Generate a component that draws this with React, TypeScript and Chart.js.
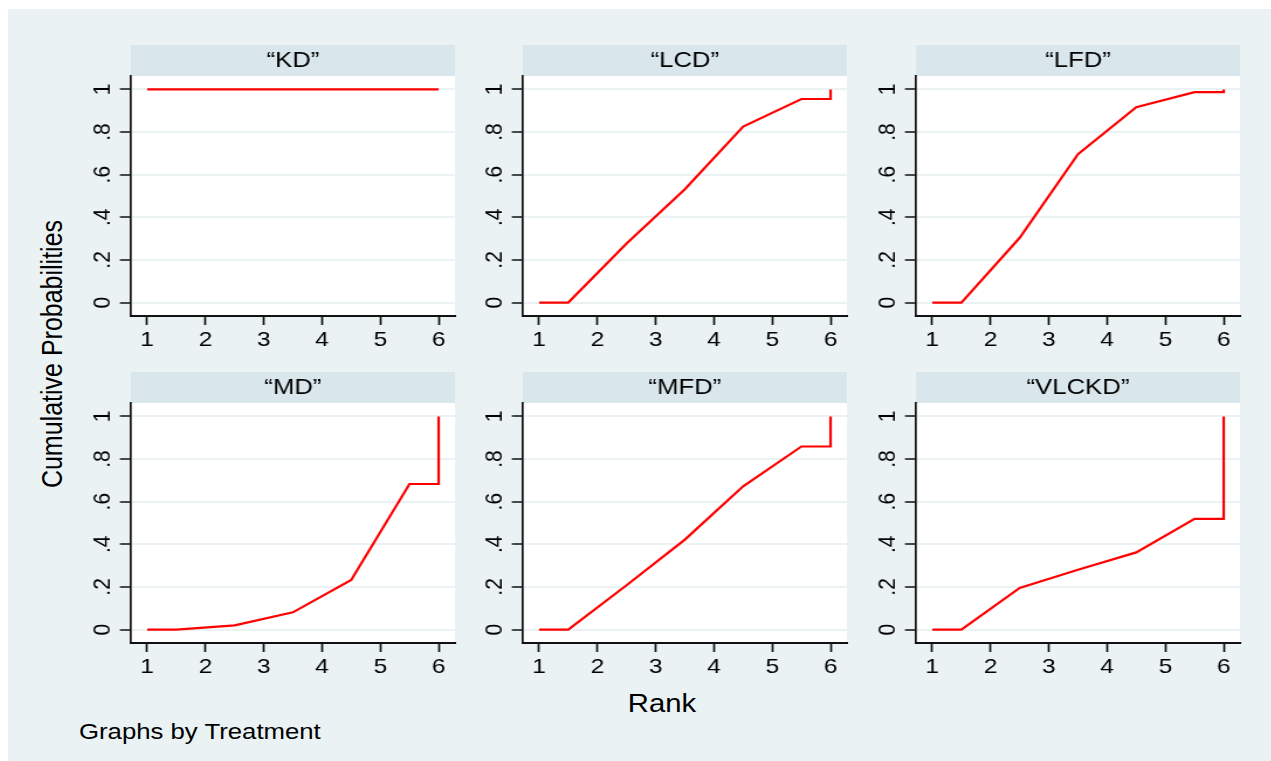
import React, { useEffect, useRef } from "react";
import { Chart, registerables } from "chart.js";

Chart.register(...registerables);

// ---------- data ----------
const treatments = ["“KD”", "“LCD”", "“LFD”", "“MD”", "“MFD”", "“VLCKD”"];
const rankPoints = [1, 1.5, 2.5, 3.5, 4.5, 5.5, 6, 6];
const cumKD = [1, 1, 1, 1, 1, 1, 1, 1];
const cumLCD = [0, 0, 0.277, 0.532, 0.826, 0.955, 0.955, 1];
const cumLFD = [0, 0, 0.304, 0.696, 0.917, 0.987, 0.987, 1];
const cumMD = [0, 0, 0.02, 0.081, 0.233, 0.683, 0.683, 1];
const cumMFD = [0, 0, 0.208, 0.422, 0.672, 0.859, 0.859, 1];
const cumVLCKD = [0, 0, 0.195, 0.281, 0.362, 0.519, 0.519, 1];
const seriesList = [cumKD, cumLCD, cumLFD, cumMD, cumMFD, cumVLCKD];
const xTickValues = [1, 2, 3, 4, 5, 6];
const yTickValues = [0, 0.2, 0.4, 0.6, 0.8, 1];
const yTickLabels = ["0", ".2", ".4", ".6", ".8", "1"];

// ---------- style / layout ----------
const FONT = "'Liberation Sans', Arial, Helvetica, sans-serif";
const BG = "#EAF2F3";
const STRIP = "#D9E6EB";
const GRID = "#EAF2F3";
const AXIS = "#111111";
const TEXT = "#000000";
const RED = "#FF0000";
const S = 1.17; // horizontal stretch of the whole graph
const toU = (pageX: number) => (pageX - 8) / S;

const Y_AXIS_W = 45;
const PLOT_W = 277;
const RIGHT_PAD = 6;
const CW = Y_AXIS_W + PLOT_W + RIGHT_PAD;
const TITLE_H = 31;
const PLOT_H = 240;
const X_AXIS_H = 40;
const CH = TITLE_H + PLOT_H + X_AXIS_H;
const plotLeftsPage = [131, 523, 916];
const stripTopsPage = [45, 372];

Chart.defaults.font.family = FONT;

const stripPlugin = {
  id: "strip",
  beforeDraw(chart: any) {
    const { ctx, chartArea: a } = chart;
    ctx.save();
    ctx.fillStyle = STRIP;
    ctx.fillRect(a.left, 0, a.right - a.left, a.top);
    ctx.fillStyle = "#ffffff";
    ctx.fillRect(a.left, a.top, a.right - a.left, a.bottom - a.top);
    ctx.restore();
  },
};

function Panel({ title, values, left, top }: { title: string; values: number[]; left: number; top: number }) {
  const ref = useRef<HTMLCanvasElement>(null);
  useEffect(() => {
    const chart = new Chart(ref.current as HTMLCanvasElement, {
      type: "line",
      data: {
        datasets: [
          {
            data: rankPoints.map((x, i) => ({ x, y: values[i] })),
            borderColor: RED,
            borderWidth: 2.2,
            pointRadius: 0,
            tension: 0,
            fill: false,
          },
        ],
      },
      options: {
        animation: false,
        responsive: false,
        events: [],
        layout: { padding: { left: 0, right: RIGHT_PAD, top: 0, bottom: 0 } },
        plugins: {
          legend: { display: false },
          tooltip: { enabled: false },
          title: {
            display: true,
            text: title,
            fullSize: false,
            color: TEXT,
            font: { size: 22, weight: "normal", family: FONT, lineHeight: 1.2 },
            padding: { top: 2.3, bottom: 2.3 },
          },
        },
        scales: {
          x: {
            type: "linear",
            min: 0.72,
            max: 6.28,
            afterBuildTicks: (axis: any) => {
              axis.ticks = xTickValues.map((v) => ({ value: v }));
            },
            afterFit: (s: any) => {
              s.height = X_AXIS_H;
            },
            ticks: {
              color: TEXT,
              font: { size: 21, family: FONT },
              padding: 3,
              maxRotation: 0,
              autoSkip: false,
              callback: (v: any) => String(v),
            },
            grid: {
              drawOnChartArea: false,
              drawTicks: true,
              tickLength: 9,
              tickColor: AXIS,
              tickWidth: 1.7,
            },
            border: { color: AXIS, width: 2 },
          },
          y: {
            type: "linear",
            min: -0.063,
            max: 1.063,
            afterBuildTicks: (axis: any) => {
              axis.ticks = yTickValues.map((v) => ({ value: v }));
            },
            afterFit: (s: any) => {
              s.width = Y_AXIS_W;
            },
            ticks: {
              color: TEXT,
              font: { size: 21, family: FONT },
              minRotation: 90,
              maxRotation: 90,
              crossAlign: "center",
              padding: 6,
              autoSkip: false,
              callback: (v: any) => {
                const i = yTickValues.indexOf(v);
                return i >= 0 ? yTickLabels[i] : "";
              },
            },
            grid: {
              color: GRID,
              lineWidth: 2,
              tickColor: AXIS,
              tickLength: 9.4,
              tickWidth: 1.5,
            },
            border: { color: AXIS, width: 1.7 },
          },
        },
      } as any,
      plugins: [stripPlugin],
    });
    return () => chart.destroy();
  }, []);
  return (
    <canvas
      ref={ref}
      width={CW}
      height={CH}
      style={{ position: "absolute", left, top, width: CW, height: CH }}
    />
  );
}

export default function App() {
  const panels = treatments.map((t, i) => {
    const col = i % 3;
    const row = Math.floor(i / 3);
    return (
      <Panel
        key={t}
        title={t}
        values={seriesList[i]}
        left={toU(plotLeftsPage[col]) - Y_AXIS_W}
        top={stripTopsPage[row] - 9}
      />
    );
  });
  return (
    <div
      style={{
        position: "absolute",
        left: 8,
        top: 9,
        width: 1079,
        height: 752,
        background: BG,
        transform: `scaleX(${S})`,
        transformOrigin: "0 0",
        fontFamily: FONT,
        color: TEXT,
        overflow: "hidden",
      }}
    >
      {panels}
      <div
        style={{
          position: "absolute",
          left: toU(53),
          top: 345,
          transform: "translate(-50%, -50%) rotate(-90deg)",
          whiteSpace: "nowrap",
          fontSize: 25,
          lineHeight: 1,
        }}
      >
        Cumulative Probabilities
      </div>
      <div
        style={{
          position: "absolute",
          left: toU(662),
          top: 694,
          transform: "translate(-50%, -50%)",
          whiteSpace: "nowrap",
          fontSize: 25,
          lineHeight: 1,
        }}
      >
        Rank
      </div>
      <div
        style={{
          position: "absolute",
          left: toU(79),
          top: 723,
          transform: "translate(0, -50%)",
          whiteSpace: "nowrap",
          fontSize: 22,
          lineHeight: 1,
        }}
      >
        Graphs by Treatment
      </div>
    </div>
  );
}
